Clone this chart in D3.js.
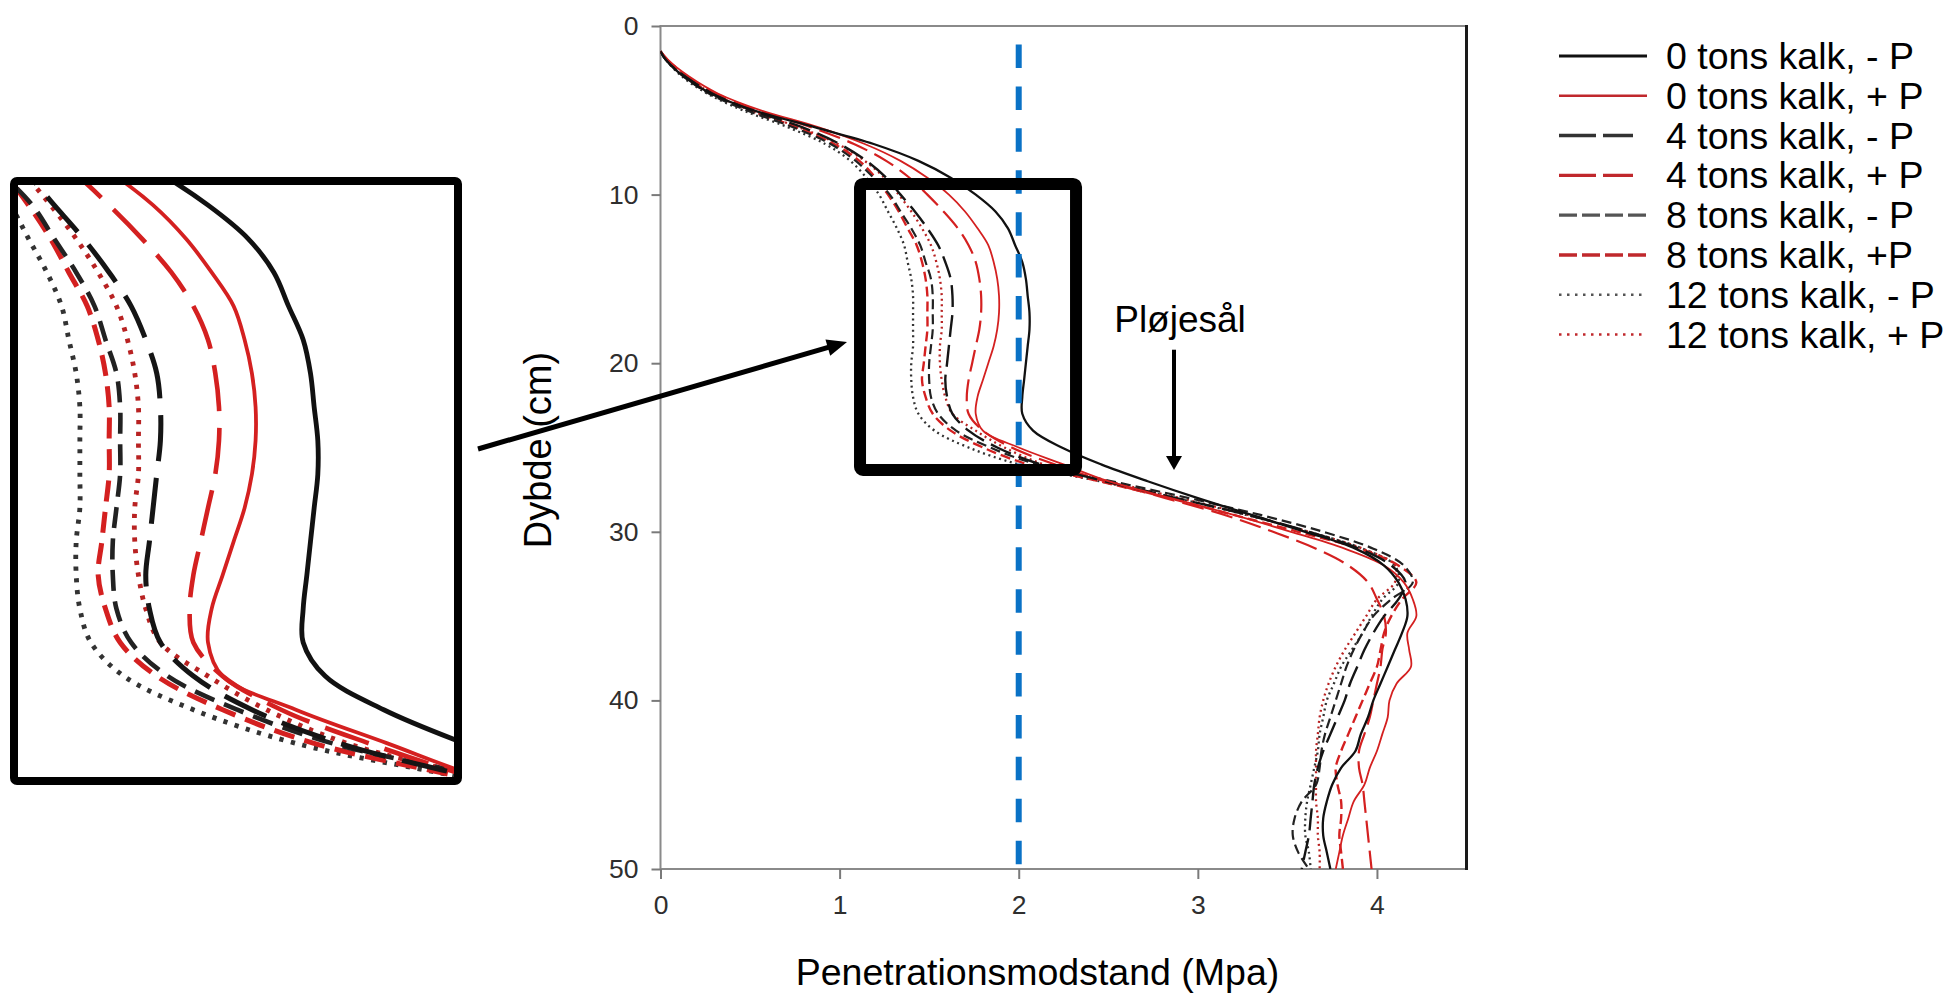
<!DOCTYPE html>
<html>
<head>
<meta charset="utf-8">
<script src="https://cdn.jsdelivr.net/npm/d3@7"></script>
<style>
  html, body { margin: 0; padding: 0; background: #ffffff; }
  svg { display: block; font-family: "Liberation Sans", Arial, Helvetica, sans-serif; }
</style>
</head>
<body>
<svg id="chart" width="1947" height="997"></svg>
<script>
// Depth of each reading (cm)
const depthCm = [1.5, 2, 3, 4, 5, 6, 7, 8, 9, 10, 11, 12, 13, 14, 15, 16, 17, 18, 19, 20,
  21, 22, 23, 24, 25, 26, 27, 28, 29, 30, 31, 32, 33, 34, 35, 36, 37, 38, 39, 40,
  41, 42, 43, 44, 45, 46, 47, 48, 49, 50];

// Penetration resistance (MPa) per treatment, one value per depth
const kalk0MinusP = [0, 0.03, 0.13, 0.28, 0.52, 0.86, 1.19, 1.44, 1.62,
  1.76, 1.87, 1.94, 1.98, 2.02, 2.04, 2.05, 2.06, 2.06, 2.05, 2.04, 2.03, 2.02, 2.02,
  2.08, 2.24, 2.46, 2.72, 3.00, 3.30, 3.60, 3.88, 4.04,
  4.12, 4.16, 4.17, 4.14, 4.10, 4.06, 4.02, 3.98, 3.95, 3.91, 3.88, 3.80, 3.75, 3.72, 3.70, 3.70, 3.72, 3.74];
const kalk0PlusP = [0, 0.04, 0.16, 0.32, 0.56, 0.88, 1.14, 1.34, 1.49,
  1.61, 1.70, 1.77, 1.83, 1.86, 1.88, 1.89, 1.89, 1.88, 1.86, 1.83, 1.80, 1.77, 1.76,
  1.80, 2.00, 2.25, 2.50, 2.85, 3.20, 3.52, 3.82, 4.04,
  4.15, 4.20, 4.22, 4.17, 4.18, 4.19, 4.11, 4.07, 4.06, 4.03, 4.00, 3.96, 3.93, 3.87, 3.84, 3.81, 3.79, 3.77];
const kalk4MinusP = [0, 0.03, 0.14, 0.29, 0.51, 0.79, 1.00, 1.15, 1.26,
  1.34, 1.42, 1.49, 1.55, 1.59, 1.62, 1.63, 1.63, 1.62, 1.61, 1.60, 1.59, 1.60, 1.63,
  1.72, 1.88, 2.12, 2.48, 2.88, 3.28, 3.62, 3.90, 4.08,
  4.16, 4.12, 4.04, 3.98, 3.93, 3.89, 3.85, 3.82, 3.78, 3.74, 3.70, 3.67, 3.65, 3.64, 3.63, 3.62, 3.60, 3.58];
const kalk4PlusP = [0, 0.04, 0.15, 0.31, 0.54, 0.84, 1.08, 1.26, 1.39,
  1.49, 1.58, 1.66, 1.72, 1.76, 1.78, 1.79, 1.79, 1.78, 1.76, 1.74, 1.72, 1.71, 1.72,
  1.80, 1.96, 2.20, 2.48, 2.82, 3.15, 3.42, 3.66, 3.84,
  3.95, 4.00, 4.04, 4.05, 4.03, 4.02, 4.00, 3.98, 3.96, 3.93, 3.90, 3.90, 3.92, 3.93, 3.94, 3.95, 3.96, 3.97];
const kalk8MinusP = [0, 0.03, 0.13, 0.27, 0.48, 0.74, 0.95, 1.09, 1.19,
  1.28, 1.34, 1.40, 1.45, 1.48, 1.51, 1.52, 1.52, 1.52, 1.51, 1.50, 1.50, 1.51, 1.55,
  1.65, 1.84, 2.10, 2.52, 2.95, 3.35, 3.70, 3.98, 4.15,
  4.20, 4.08, 3.98, 3.92, 3.87, 3.83, 3.80, 3.77, 3.74, 3.71, 3.69, 3.68, 3.66, 3.58, 3.54, 3.53, 3.56, 3.62];
const kalk8PlusP = [0, 0.035, 0.14, 0.29, 0.50, 0.76, 0.97, 1.11, 1.20,
  1.27, 1.33, 1.38, 1.43, 1.46, 1.48, 1.49, 1.49, 1.49, 1.48, 1.47, 1.46, 1.48, 1.52,
  1.62, 1.80, 2.05, 2.45, 2.84, 3.20, 3.56, 3.90, 4.12,
  4.22, 4.14, 4.08, 4.04, 4.02, 4.00, 3.96, 3.92, 3.88, 3.84, 3.80, 3.77, 3.78, 3.80, 3.80, 3.79, 3.80, 3.81];
const kalk12MinusP = [0, 0.03, 0.12, 0.26, 0.46, 0.71, 0.92, 1.06, 1.15,
  1.22, 1.27, 1.32, 1.36, 1.38, 1.40, 1.41, 1.41, 1.41, 1.41, 1.40, 1.40, 1.41, 1.44,
  1.53, 1.72, 2.00, 2.45, 2.88, 3.27, 3.62, 3.92, 4.10,
  4.12, 4.03, 3.97, 3.92, 3.86, 3.80, 3.76, 3.72, 3.70, 3.68, 3.67, 3.65, 3.63, 3.61, 3.60, 3.60, 3.62, 3.63];
const kalk12PlusP = [0, 0.035, 0.14, 0.29, 0.50, 0.77, 0.99, 1.14, 1.25,
  1.33, 1.40, 1.46, 1.51, 1.54, 1.56, 1.57, 1.57, 1.57, 1.56, 1.56, 1.57, 1.59, 1.63,
  1.76, 1.92, 2.14, 2.50, 2.90, 3.28, 3.62, 3.92, 4.10,
  4.10, 4.00, 3.94, 3.88, 3.82, 3.77, 3.73, 3.70, 3.68, 3.67, 3.66, 3.66, 3.66, 3.66, 3.67, 3.67, 3.68, 3.68];

const seriesLabels = ["0 tons kalk, - P", "0 tons kalk, + P", "4 tons kalk, - P", "4 tons kalk, + P",
  "8 tons kalk, - P", "8 tons kalk, +P", "12 tons kalk, - P", "12 tons kalk, + P"];

const xTickValues = [0, 1, 2, 3, 4];
const yTickValues = [0, 10, 20, 30, 40, 50];
const xDomain = [0, 4.5];
const yDomain = [0, 50];
const referenceMpa = 2;            // dashed blue reference line
const referenceTopCm = 1.1;
const zoomBoxMpa = [1.114, 2.32];  // highlighted area in the main plot
const zoomBoxCm = [9.37, 26.33];
const insetMpa = [1.241, 2.432];   // area shown enlarged on the left
const insetCm = [9.4, 27.0];
const plowPanMpa = 2.867;          // "Pløjesål" arrow
const plowPanCm = [19.2, 26.33];

const xTitle = "Penetrationsmodstand (Mpa)";
const yTitle = "Dybde (cm)";
const plowPanLabel = "Pløjesål";

// ---- styles ----
const RED = "#d42020";
const seriesStyle = [
  { color: "#111111", width: 2.3, dash: null },
  { color: RED,       width: 1.8, dash: null },
  { color: "#151515", width: 2.4, dash: [22, 8] },
  { color: RED,       width: 2.2, dash: [22, 8] },
  { color: "#222222", width: 2.2, dash: [10, 5] },
  { color: RED,       width: 2.4, dash: [10, 5] },
  { color: "#333333", width: 2.3, dash: [2, 3.6] },
  { color: "#b82222", width: 2.3, dash: [2, 3.6] }
];
const legendStyle = [
  { color: "#111111", width: 3,   dash: null,   len: 88 },
  { color: "#c0282c", width: 2.5, dash: null,   len: 88 },
  { color: "#333333", width: 3.5, dash: [37, 7], len: 74 },
  { color: "#c0282c", width: 3.2, dash: [37, 7], len: 74 },
  { color: "#555555", width: 3.2, dash: [18, 5], len: 88 },
  { color: "#c0282c", width: 3.6, dash: [18, 5], len: 88 },
  { color: "#555555", width: 2.5, dash: [2.5, 5.5], len: 88 },
  { color: "#c0282c", width: 2.5, dash: [2.5, 5.5], len: 88 }
];

const allSeries = [kalk0MinusP, kalk0PlusP, kalk4MinusP, kalk4PlusP,
  kalk8MinusP, kalk8PlusP, kalk12MinusP, kalk12PlusP].map((vals, i) => ({
    label: seriesLabels[i],
    style: seriesStyle[i],
    points: depthCm.map((d, j) => ({ depth: d, mpa: vals[j] }))
  }));

// ---- layout ----
const plot = { left: 660.5, right: 1466.5, top: 26, bottom: 869 };
const insetBox = { x0: 18, x1: 454, y0: 185, y1: 777, stroke: 8 };

const svg = d3.select("#chart");
svg.append("rect").attr("width", 1947).attr("height", 997).attr("fill", "#fff");

const x = d3.scaleLinear().domain(xDomain).range([plot.left, plot.right]);
const y = d3.scaleLinear().domain(yDomain).range([plot.top, plot.bottom]);

function drawCurves(g, xs, ys, k) {
  const line = d3.line()
    .x(p => xs(p.mpa))
    .y(p => ys(p.depth))
    .curve(d3.curveCatmullRom.alpha(0.5));
  allSeries.slice().reverse().forEach(s => {
    g.append("path")
      .datum(s.points)
      .attr("d", line)
      .attr("fill", "none")
      .attr("stroke", s.style.color)
      .attr("stroke-width", s.style.width * k)
      .attr("stroke-linejoin", "round")
      .attr("stroke-dasharray", s.style.dash ? s.style.dash.map(v => v * k).join(",") : null);
  });
}

// ---- main plot ----
const defs = svg.append("defs");
defs.append("clipPath").attr("id", "plotClip").append("rect")
  .attr("x", plot.left).attr("y", plot.top)
  .attr("width", plot.right - plot.left).attr("height", plot.bottom - plot.top);

// frame
svg.append("rect")
  .attr("x", plot.left).attr("y", plot.top)
  .attr("width", plot.right - plot.left).attr("height", plot.bottom - plot.top)
  .attr("fill", "none").attr("stroke", "#8a8a8a").attr("stroke-width", 2);
svg.append("line")
  .attr("x1", plot.right).attr("x2", plot.right)
  .attr("y1", plot.top - 1).attr("y2", plot.bottom + 1)
  .attr("stroke", "#1a1a1a").attr("stroke-width", 3);

// axes
const yAxis = d3.axisLeft(y).tickValues(yTickValues).tickSize(9).tickPadding(13).tickFormat(d3.format("d"));
const xAxis = d3.axisBottom(x).tickValues(xTickValues).tickSize(10).tickPadding(16).tickFormat(d3.format("d"));

const gy = svg.append("g").attr("transform", `translate(${plot.left},0)`).call(yAxis);
const gx = svg.append("g").attr("transform", `translate(0,${plot.bottom})`).call(xAxis);
[gx, gy].forEach(g => {
  g.select(".domain").remove();
  g.selectAll(".tick line").attr("stroke", "#7a7a7a").attr("stroke-width", 2);
  g.selectAll(".tick text")
    .attr("fill", "#2e2e2e")
    .style("font-size", "26.5px")
    .style("font-family", "\"Liberation Sans\", Arial, sans-serif");
});

// curves
const curvesMain = svg.append("g").attr("clip-path", "url(#plotClip)");
drawCurves(curvesMain, x, y, 1);

// reference line at 2 MPa
svg.append("line")
  .attr("x1", x(referenceMpa)).attr("x2", x(referenceMpa))
  .attr("y1", y(referenceTopCm)).attr("y2", y(yDomain[1]) - 3)
  .attr("stroke", "#0a72c6").attr("stroke-width", 6)
  .attr("stroke-dasharray", "23.5,18.4");

// highlighted area
svg.append("rect")
  .attr("x", x(zoomBoxMpa[0])).attr("y", y(zoomBoxCm[0]))
  .attr("width", x(zoomBoxMpa[1]) - x(zoomBoxMpa[0]))
  .attr("height", y(zoomBoxCm[1]) - y(zoomBoxCm[0]))
  .attr("rx", 3)
  .attr("fill", "none").attr("stroke", "#000").attr("stroke-width", 12);

// axis titles
svg.append("text")
  .attr("x", (plot.left + plot.right) / 2 - 26).attr("y", 985)
  .attr("text-anchor", "middle")
  .style("font-size", "37.5px").attr("fill", "#000")
  .text(xTitle);
svg.append("text")
  .attr("transform", `translate(551,450) rotate(-90)`)
  .attr("text-anchor", "middle")
  .style("font-size", "38px").attr("fill", "#000")
  .text(yTitle);

// plough pan annotation
function arrowHead(g, tipX, tipY, angle, len, halfW) {
  const c = Math.cos(angle), s = Math.sin(angle);
  const bx = tipX - c * len, by = tipY - s * len;
  const pts = [[tipX, tipY], [bx - s * halfW, by + c * halfW], [bx + s * halfW, by - c * halfW]];
  g.append("polygon").attr("points", pts.map(p => p.join(",")).join(" ")).attr("fill", "#000");
}
const ann = svg.append("g");
ann.append("text")
  .attr("x", x(plowPanMpa) + 6).attr("y", y(plowPanCm[0]) - 18)
  .attr("text-anchor", "middle")
  .style("font-size", "37px").attr("fill", "#000")
  .text(plowPanLabel);
ann.append("line")
  .attr("x1", x(plowPanMpa)).attr("x2", x(plowPanMpa))
  .attr("y1", y(plowPanCm[0])).attr("y2", y(plowPanCm[1]) - 12)
  .attr("stroke", "#000").attr("stroke-width", 4);
arrowHead(ann, x(plowPanMpa), y(plowPanCm[1]), Math.PI / 2, 14, 8);

// ---- enlarged inset ----
const xi = d3.scaleLinear().domain(insetMpa).range([insetBox.x0, insetBox.x1]);
const yi = d3.scaleLinear().domain(insetCm).range([insetBox.y0, insetBox.y1]);
defs.append("clipPath").attr("id", "insetClip").append("rect")
  .attr("x", insetBox.x0).attr("y", insetBox.y0)
  .attr("width", insetBox.x1 - insetBox.x0).attr("height", insetBox.y1 - insetBox.y0);
const curvesInset = svg.append("g").attr("clip-path", "url(#insetClip)");
drawCurves(curvesInset, xi, yi, 2.1);
svg.append("rect")
  .attr("x", insetBox.x0 - insetBox.stroke / 2).attr("y", insetBox.y0 - insetBox.stroke / 2)
  .attr("width", insetBox.x1 - insetBox.x0 + insetBox.stroke)
  .attr("height", insetBox.y1 - insetBox.y0 + insetBox.stroke)
  .attr("rx", 3)
  .attr("fill", "none").attr("stroke", "#000").attr("stroke-width", insetBox.stroke);

// pointer from the inset to the highlighted area
const pStart = [insetBox.x1 + insetBox.stroke + 16, 449];
const pEnd = [x(zoomBoxMpa[0]) - 13, 342];
const ang = Math.atan2(pEnd[1] - pStart[1], pEnd[0] - pStart[0]);
ann.append("line")
  .attr("x1", pStart[0]).attr("y1", pStart[1])
  .attr("x2", pEnd[0] - Math.cos(ang) * 16).attr("y2", pEnd[1] - Math.sin(ang) * 16)
  .attr("stroke", "#000").attr("stroke-width", 5);
arrowHead(ann, pEnd[0], pEnd[1], ang, 20, 8.5);

// ---- legend ----
const legend = svg.append("g").attr("transform", "translate(1559,56)");
seriesLabels.forEach((lab, i) => {
  const st = legendStyle[i];
  const row = legend.append("g").attr("transform", `translate(0,${i * 39.8})`);
  row.append("line")
    .attr("x1", 0).attr("x2", st.len).attr("y1", 0).attr("y2", 0)
    .attr("stroke", st.color).attr("stroke-width", st.width)
    .attr("stroke-dasharray", st.dash ? st.dash.join(",") : null);
  row.append("text")
    .attr("x", 107).attr("y", 13)
    .style("font-size", "37.5px").attr("fill", "#000")
    .text(lab);
});
</script>
</body>
</html>
